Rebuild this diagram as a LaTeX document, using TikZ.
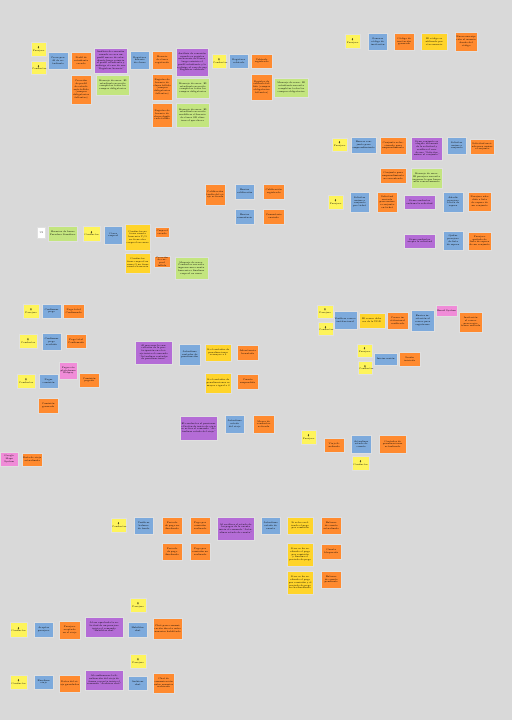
\documentclass[tikz,border=0pt]{standalone}
\usepackage{fontspec}
\usepackage{tikz}
\usetikzlibrary{positioning}
\newfontfamily\emojifont{Noto Emoji}
\newcommand\notefont{\fontsize{2.3}{2.75}\selectfont}
\newcommand\who[1]{{\emojifont 🧍}\\#1}
\definecolor{boardgray}{HTML}{D9D9D9}
\definecolor{actoryellow}{HTML}{FEF45B}
\definecolor{cmdblue}{HTML}{7DAADC}
\definecolor{evtorange}{HTML}{FF8A2F}
\definecolor{polpurple}{HTML}{B46CD6}
\definecolor{viewgreen}{HTML}{C3E57F}
\definecolor{condgold}{HTML}{FFD42A}
\definecolor{extpink}{HTML}{F08CD8}

\tikzset{
  note/.style={draw=black!12,line width=0.4pt,inner xsep=1pt,inner ysep=0.6pt,
    align=center,font=\notefont},
  sz/.code 2 args={\pgfmathsetmacro\notetw{#1-2}%
    \edef\next{\noexpand\tikzset{text width=\notetw pt,minimum height=#2pt}}\next},
  actor/.style={note,fill=actoryellow},
  cmd/.style={note,fill=cmdblue},
  evt/.style={note,fill=evtorange},
  pol/.style={note,fill=polpurple},
  view/.style={note,fill=viewgreen},
  cond/.style={note,fill=condgold},
  ext/.style={note,fill=extpink},
  ui/.style={note,fill=white}
}

\begin{document}
\begin{tikzpicture}[x=1pt,y=-1pt]
\fill[boardgray] (0,0) rectangle (512,720);

% perfil, horario y vehiculo
\node[actor,sz={15}{14}] (pas1) at (38.5,49) {\who{Pasajero}};
\node[actor,sz={15}{13}] (con1) at (38.5,67.5) {\who{Conductor}};
\node[cmd,sz={20}{17}] (crearperfil) at (58,60.5) {Crear perfil de estudiante};
\node[evt,sz={20}{17}] (perfilok) at (81,60.5) {Perfil de estudiante creado};
\node[evt,sz={20}{29}] (perfilfail) at (81,89.5) {Creación de perfil de estudiante fallido (campos obligatorios faltantes)};
\node[pol,sz={33}{25}] (polperfil) at (110.5,60.5) {Análisis de conexión cuando se crea un perfil nuevo de estudiante luego reinicia el perfil estudiante y redirige al caso de uso ``Registrar horario''};
\node[view,sz={33}{20}] (errperfil) at (112.5,85) {Mensaje de error: El estudiante necesita completar todos los campos obligatorios};
\node[cmd,sz={19}{18}] (reghorario) at (139.5,60) {Registrar horario de clases};
\node[evt,sz={20}{18}] (horariook) at (162,60) {Horario de clases registrado};
\node[evt,sz={20}{26}] (horariofail) at (162,87) {Registro de horario de clases fallido (campos obligatorios faltantes)};
\node[evt,sz={20}{24}] (horariodup) at (162,115) {Registro de horario de clases duplicado fallido};
\node[pol,sz={32}{28}] (polhorario) at (192,62) {Análisis de conexión cuando se registra un horario de clases, luego reinicia el perfil estudiante y lo redirige al caso de uso ``Registrar vehículo''};
\node[view,sz={33}{20}] (errhorario) at (192.5,88) {Mensaje de error: El estudiante necesita completar todos los campos obligatorios};
\node[view,sz={33}{24}] (errchoque) at (192.5,115) {Mensaje de error: El estudiante necesita modificar el horario de clases OR eliminar el que choca};
\node[actor,sz={14}{14}] (con2) at (219,61) {\who{Conductor}};
\node[cmd,sz={19}{14}] (regvehiculo) at (238.5,61) {Registrar vehículo};
\node[evt,sz={21}{14}] (vehiculook) at (261.5,61) {Vehículo registrado};
\node[evt,sz={21}{26}] (vehiculofail) at (261.5,87) {Registro de vehículo fallido (campos obligatorios faltantes)};
\node[view,sz={34}{19}] (errvehiculo) at (291,87.5) {Mensaje de error: El estudiante necesita completar todos los campos obligatorios};

% invitacion
\node[actor,sz={15}{14}] (pas2) at (352.5,41) {\who{Pasajero}};
\node[cmd,sz={19}{17}] (gencodigo) at (377.5,41.5) {Generar código de invitación};
\node[evt,sz={20}{17}] (codigook) at (404,41.5) {Código de invitación generado};
\node[cond,sz={26}{17}] (codigouso) at (434,41.5) {El código es utilizado por otro usuario};
\node[evt,sz={22}{19}] (suscripcion) at (466,41.5) {Nueva suscripción al usuario dueño del código};

% conjuntos
\node[actor,sz={15}{13}] (pas3) at (339.5,144.5) {\who{Pasajero}};
\node[cmd,sz={25}{16}] (buscarconj) at (363.5,145) {Buscar conjunto para emprendimiento};
\node[evt,sz={26}{17}] (conjsel) at (393,145.5) {Conjunto seleccionado para emprendimiento};
\node[pol,sz={31}{23}] (polconj) at (426.5,148.5) {Si un conjunto es elegido del menú de la solicitud y verifica el caso de uso ``Solicitar unirse al conjunto''};
\node[cmd,sz={19}{17}] (unirse) at (456.5,145.5) {Solicitar unirse a conjunto};
\node[evt,sz={24}{15}] (solenviada) at (482,146.5) {Solicitud enviada para unirse a conjunto};
\node[evt,sz={26}{15}] (conjnone) at (393,175.5) {Conjunto para emprendimiento no encontrado};
\node[view,sz={31}{20}] (errconj) at (426.5,178) {Mensaje de error: El pasajero necesita ingresar lo que busca más concretamente};

\node[actor,sz={15}{14}] (pas4) at (335.5,202) {\who{Pasajero}};
\node[cmd,sz={19}{20}] (unirseticket) at (359.5,202) {Solicitar unirse a conjunto por ticket};
\node[evt,sz={20}{20}] (ticketenviado) at (387,202) {Solicitud enviada para unirse a conjunto en ticket};
\node[pol,sz={31}{14}] (polrechaza) at (419.5,202) {Si un conductor rechaza la solicitud};
\node[cmd,sz={20}{20}] (anadirespera) at (453,202) {Añadir pasajero a lista de espera};
\node[evt,sz={23}{19}] (enespera) at (479.5,201.5) {Pasajero añadido a lista de espera de un conjunto};
\node[pol,sz={31}{14}] (polacepta) at (419.5,241) {Si un conductor acepta la solicitud};
\node[cmd,sz={20}{19}] (quitarespera) at (453,240.5) {Quitar pasajero de lista de espera};
\node[evt,sz={23}{18}] (fueraespera) at (479.5,241) {Pasajero quitado de lista de espera de un conjunto};

% calificacion
\node[evt,sz={20}{21}] (califact) at (215,194.5) {Calificación tardía del viaje activada};
\node[cmd,sz={19}{15}] (enviarcalif) at (244.5,191.5) {Enviar calificación};
\node[evt,sz={21}{15}] (califreg) at (273.5,191.5) {Calificación registrada};
\node[cmd,sz={19}{15}] (enviarcom) at (244.5,216.5) {Enviar comentario};
\node[evt,sz={21}{15}] (comenviado) at (273.5,216.5) {Comentario enviado};

% carpool
\node[ui,sz={8}{11}] (uibox) at (41,232.5) {UI};
\node[view,sz={29}{15}] (horbuses) at (62.5,233.5) {Horarios de buses Paradero Semáforo};
\node[actor,sz={17}{15}] (con3) at (91.5,233.5) {\who{Conductor}};
\node[cmd,sz={18}{18}] (crearcarpool) at (113,235) {Crear carpool};
\node[cond,sz={25}{26}] (carpoolsi) at (137.5,237) {Conductor no tiene cuenta bancaria Y/O no tiene otro carpool en curso};
\node[evt,sz={14}{10}] (carpoolok) at (162,232) {Carpool creado};
\node[cond,sz={25}{20}] (carpoolno) at (137.5,263) {Conductor tiene carpool en curso O no tiene cuenta bancaria};
\node[evt,sz={16}{11}] (carpoolfail) at (162,261.5) {Creación de carpool fallida};
\node[view,sz={33}{22}] (errcarpool) at (191,268) {Mensaje de error: Conductor necesita ingresar una cuenta bancaria o finalizar carpool en curso};

% pagos
\node[actor,sz={16}{14}] (pas5) at (31,311) {\who{Pasajero}};
\node[cmd,sz={19}{14}] (confpago) at (51.5,311) {Confirmar pago};
\node[evt,sz={21}{14}] (pagook) at (73.5,311) {Pago total Confirmado};
\node[actor,sz={18}{14}] (con4) at (28,341) {\who{Conductor}};
\node[cmd,sz={19}{17}] (confrecibido) at (51.5,341.5) {Confirmar pago recibido};
\node[evt,sz={20}{14}] (recibidook) at (76,341) {Pago total Confirmado};
\node[ext,sz={18}{17}] (webpay) at (68,370.5) {Pagos vía plataforma Webpay};
\node[actor,sz={18}{14}] (con5) at (26,381) {\who{Conductor}};
\node[cmd,sz={19}{14}] (pagarcom) at (48.5,381) {Pagar comisión};
\node[evt,sz={20}{14}] (compagada) at (89,380) {Comisión pagada};
\node[evt,sz={20}{15}] (comgenerada) at (48,405.5) {Comisión generada};

% penalizaciones
\node[pol,sz={37}{23}] (polpenal) at (153.5,352.5) {Al procesar la cancelación de la participación en el viaje inicia el comando ``Actualizar contador de penalizaciones''};
\node[cmd,sz={21}{21}] (actpenal) at (189.5,354.5) {Actualizar contador de penalización};
\node[cond,sz={26}{17}] (penalmayor) at (218,352.5) {Si el contador de penalizaciones es mayor a 3};
\node[evt,sz={21}{15}] (advertencia) at (247.5,352.5) {Advertencia levantada};
\node[cond,sz={26}{20}] (penaligual) at (218,383) {Si el contador de penalizaciones es mayor o igual a 3};
\node[evt,sz={21}{15}] (suspendida) at (247.5,381.5) {Cuenta suspendida};

% estado del viaje
\node[pol,sz={37}{24}] (polviaje) at (198.5,428) {El conductor al presionar el botón de inicio de viaje se activa el comando ``Actualizar estado del viaje''};
\node[cmd,sz={19}{18}] (actviaje) at (234.5,424) {Actualizar estado del viaje};
\node[evt,sz={21}{18}] (marcaviaje) at (263.5,424) {Marca de conductor activada};

% correo institucional
\node[actor,sz={16}{13}] (pas6) at (325,311.5) {\who{Pasajero}};
\node[actor,sz={15}{13}] (con6) at (325.5,328.5) {\who{Conductor}};
\node[cmd,sz={23}{18}] (vercorreo) at (345,320) {Verificar correo institucional};
\node[cond,sz={26}{15}] (correoudd) at (371.5,320.5) {El correo debe ser de la UDD};
\node[evt,sz={21}{17}] (correook) at (397.5,320.5) {Correo institucional verificado};
\node[cmd,sz={23}{21}] (enviarinv) at (422.5,320.5) {Enviar invitación al correo para registrarse};
\node[ext,sz={21}{11}] (emailsys) at (446.5,310.5) {Email System};
\node[evt,sz={23}{20}] (invenviada) at (470.5,322) {Invitación al correo para registrarse enviada};

% sesion
\node[actor,sz={15}{13}] (pas7) at (364.5,350.5) {\who{Pasajero}};
\node[actor,sz={14}{13}] (con7) at (365,367.5) {\who{Conductor}};
\node[cmd,sz={23}{12}] (iniciar) at (385.5,359) {Iniciar sesión};
\node[evt,sz={21}{14}] (sesionok) at (409.5,359) {Sesión iniciada};

% fin de viaje
\node[actor,sz={15}{14}] (pas8) at (308.5,437) {\who{Pasajero}};
\node[evt,sz={20}{14}] (viajefin) at (334,445) {Viaje finalizado};
\node[cmd,sz={20}{18}] (actcuenta) at (361,444) {Actualizar estado de cuenta};
\node[evt,sz={27}{18}] (penalact) at (392.5,444) {Contador de penalizaciones actualizado};
\node[actor,sz={17}{14}] (con8) at (360.5,463) {\who{Conductor}};

% mapa
\node[ext,sz={18}{14}] (mapsys) at (9,459) {Google Maps System};
\node[evt,sz={20}{13}] (rutaact) at (32,459.5) {Ruta de viaje actualizada};

% balance de cuenta
\node[actor,sz={15}{14}] (con9) at (118.5,525) {\who{Conductor}};
\node[cmd,sz={19}{17}] (verbalance) at (143.5,525.5) {Verificar balance de fondo};
\node[evt,sz={20}{17}] (periodono) at (172,525.5) {Periodo de pago no finalizado};
\node[evt,sz={20}{17}] (pagorealizado) at (200,525.5) {Pago por comisión realizado};
\node[pol,sz={37}{23}] (polcuenta) at (235.5,528.5) {Al verificar el estado de los pagos de la cuenta inicia el comando ``Actualizar estado de cuenta''};
\node[cmd,sz={19}{17}] (actcuenta2) at (270.5,525.5) {Actualizar estado de cuenta};
\node[evt,sz={20}{17}] (periodofin) at (172,551.5) {Periodo de pago finalizado};
\node[evt,sz={20}{17}] (pagono) at (200,551.5) {Pago por comisión no realizado};
\node[cond,sz={26}{17}] (sipago) at (300,525.5) {Si se ha realizado el pago por comisión};
\node[evt,sz={20}{17}] (balanceact) at (331,525.5) {Balance de cuenta actualizado};
\node[cond,sz={26}{23}] (nopagofin) at (300,554.5) {Si no se ha realizado el pago por comisión y finaliza el periodo de pago};
\node[evt,sz={20}{15}] (bloqueada) at (331,551.5) {Cuenta bloqueada};
\node[cond,sz={26}{23}] (nopagono) at (300,582.5) {Si no se ha realizado el pago por comisión y el periodo de pago no ha finalizado};
\node[evt,sz={20}{17}] (balancepend) at (331,579.5) {Balance de cuenta pendiente};

% chat
\node[actor,sz={16}{14}] (pas9) at (138,605) {\who{Pasajero}};
\node[actor,sz={17}{15}] (con10) at (18.5,629.5) {\who{Conductor}};
\node[cmd,sz={19}{15}] (aceptarpas) at (43.5,629.5) {Aceptar pasajero};
\node[evt,sz={21}{18}] (pasaceptado) at (69.5,630) {Pasajero aceptado en el viaje};
\node[pol,sz={38}{20}] (polchat) at (104,627) {Al ser aprobada la solicitud de un pasajero inicia el comando ``Habilitar chat''};
\node[cmd,sz={19}{15}] (habchat) at (137.5,629.5) {Habilitar chat};
\node[evt,sz={29}{21}] (chathab) at (167.5,628.5) {Chat para comunicación directa entre usuarios habilitado};

\node[actor,sz={16}{14}] (pas10) at (138,661) {\who{Pasajero}};
\node[actor,sz={17}{14}] (con11) at (18.5,682) {\who{Conductor}};
\node[cmd,sz={19}{14}] (finviaje) at (43.5,682) {Finalizar viaje};
\node[evt,sz={21}{17}] (datosviaje) at (69.5,683.5) {Datos del viaje guardados};
\node[pol,sz={38}{20}] (polarchivo) at (104,680) {Al confirmarse la finalización del viaje de forma correcta inicia el comando ``Archivar chat''};
\node[cmd,sz={19}{14}] (archchat) at (137.5,683) {Archivar chat};
\node[evt,sz={21}{20}] (chatarch) at (163.5,683) {Chat de comunicación entre usuarios archivado};
\end{tikzpicture}
\end{document}
